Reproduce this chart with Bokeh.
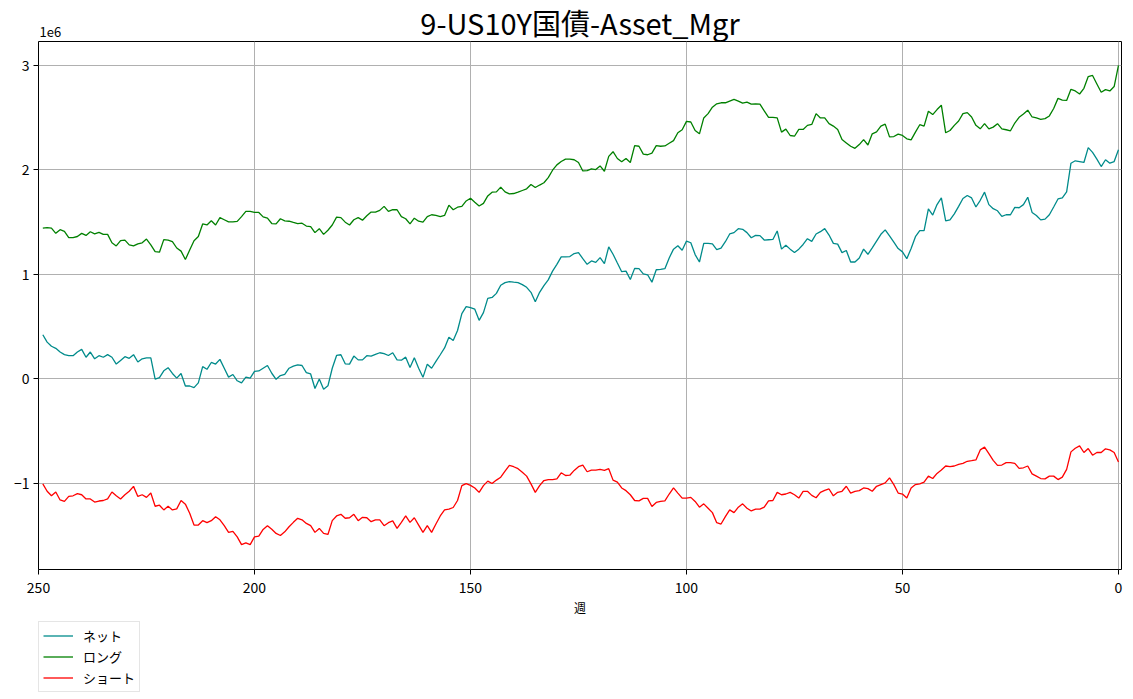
from bokeh.plotting import figure
from bokeh.layouts import column
from bokeh.models import (Range1d, FixedTicker, CustomJSTickFormatter, Legend,
                          LegendItem, Title, ColumnDataSource)
from bokeh.embed import file_html
from bokeh.resources import INLINE

FONT = "Noto Sans CJK JP"
SCALE = 1e6

title_text = "9-US10Y国債-Asset_Mgr"
x_label = "週"
legend_labels = ["ネット", "ロング", "ショート"]
colors = ["darkcyan", "green", "red"]
x_ticks = [250, 200, 150, 100, 50, 0]
y_ticks = [-1, 0, 1, 2, 3]

# weeks ago: 249 ... 0
weeks = list(range(249, -1, -1))

# values in millions (1e6)
long_m = [
    1.44, 1.445, 1.44, 1.39, 1.425, 1.41, 1.35, 1.35, 1.36, 1.39,
    1.37, 1.405, 1.385, 1.40, 1.38, 1.38, 1.30, 1.27, 1.32, 1.325,
    1.28, 1.27, 1.29, 1.30, 1.335, 1.28, 1.215, 1.21, 1.33, 1.325,
    1.31, 1.25, 1.22, 1.14, 1.23, 1.32, 1.36, 1.48, 1.47, 1.51,
    1.47, 1.54, 1.52, 1.50, 1.50, 1.505, 1.55, 1.60, 1.60, 1.59,
    1.59, 1.548, 1.535, 1.484, 1.48, 1.53, 1.51, 1.506, 1.494, 1.484,
    1.487, 1.46, 1.455, 1.397, 1.435, 1.38, 1.42, 1.47, 1.545, 1.54,
    1.497, 1.47, 1.52, 1.54, 1.516, 1.558, 1.594, 1.594, 1.61, 1.648,
    1.60, 1.616, 1.616, 1.55, 1.53, 1.48, 1.535, 1.506, 1.497, 1.55,
    1.568, 1.561, 1.55, 1.561, 1.66, 1.616, 1.64, 1.648, 1.70,
    1.726, 1.687, 1.652, 1.677, 1.748, 1.784, 1.787, 1.832, 1.787, 1.768,
    1.771, 1.784, 1.80, 1.816, 1.858, 1.829, 1.852, 1.874, 1.923, 1.994,
    2.045, 2.077, 2.10, 2.10, 2.094, 2.068, 1.987, 1.99, 2.006, 2.0,
    2.035, 1.984, 2.126, 2.171, 2.106, 2.074, 2.106, 2.068, 2.229, 2.223,
    2.148, 2.142, 2.158, 2.229, 2.223, 2.226, 2.252, 2.277, 2.352, 2.381,
    2.461, 2.455, 2.374, 2.342, 2.494, 2.535, 2.597, 2.629, 2.639, 2.639,
    2.655, 2.671, 2.655, 2.635, 2.645, 2.626, 2.629, 2.626, 2.561, 2.50,
    2.50, 2.494, 2.358, 2.387, 2.326, 2.319, 2.384, 2.384, 2.423, 2.432,
    2.535, 2.494, 2.494, 2.439, 2.416, 2.384, 2.287, 2.255, 2.223, 2.203,
    2.239, 2.287, 2.235, 2.342, 2.361, 2.416, 2.435, 2.313, 2.316, 2.339,
    2.326, 2.294, 2.284, 2.358, 2.429, 2.416, 2.558, 2.526, 2.574, 2.616,
    2.352, 2.374, 2.423, 2.465, 2.535, 2.545, 2.503, 2.423, 2.39, 2.439,
    2.39, 2.406, 2.439, 2.39, 2.381, 2.371, 2.445, 2.50, 2.532, 2.568,
    2.503, 2.494, 2.481, 2.487, 2.513, 2.584, 2.681, 2.665, 2.661, 2.768,
    2.752, 2.723, 2.777, 2.89, 2.90, 2.819, 2.739, 2.765, 2.752, 2.794,
    2.997,
]

net_m = [
    0.42, 0.35, 0.31, 0.29, 0.255, 0.23, 0.22, 0.22, 0.255, 0.28,
    0.205, 0.255, 0.19, 0.22, 0.205, 0.23, 0.205, 0.14, 0.175, 0.21,
    0.195, 0.23, 0.16, 0.19, 0.20, 0.20, -0.005, 0.01, 0.075, 0.105,
    0.05, 0.005, 0.05, -0.07, -0.07, -0.085, -0.04, 0.115, 0.09, 0.155,
    0.14, 0.185, 0.10, 0.015, 0.04, -0.02, -0.04, 0.015, 0.005, 0.07,
    0.074, 0.10, 0.126, 0.052, -0.006, 0.03, 0.042, 0.10, 0.12, 0.132,
    0.126, 0.058, 0.045, -0.094, -0.003, -0.10, -0.068, 0.10, 0.222, 0.229,
    0.142, 0.139, 0.216, 0.18, 0.18, 0.22, 0.216, 0.232, 0.248, 0.239,
    0.222, 0.248, 0.18, 0.177, 0.206, 0.106, 0.20, 0.10, 0.013, 0.139,
    0.10, 0.165, 0.229, 0.294, 0.397, 0.365, 0.461, 0.623, 0.69,
    0.68, 0.665, 0.558, 0.632, 0.768, 0.777, 0.816, 0.894, 0.919, 0.929,
    0.923, 0.919, 0.90, 0.874, 0.826, 0.735, 0.826, 0.89, 0.945, 1.029,
    1.094, 1.165, 1.165, 1.168, 1.197, 1.206, 1.148, 1.094, 1.126, 1.113,
    1.158, 1.10, 1.261, 1.19, 1.106, 1.023, 1.029, 0.948, 1.055, 1.052,
    1.003, 0.994, 0.923, 1.042, 1.045, 1.052, 1.155, 1.239, 1.271, 1.229,
    1.316, 1.30, 1.187, 1.116, 1.294, 1.294, 1.29, 1.235, 1.248, 1.31,
    1.384, 1.397, 1.435, 1.429, 1.397, 1.348, 1.371, 1.368, 1.326, 1.329,
    1.332, 1.413, 1.239, 1.277, 1.239, 1.206, 1.239, 1.284, 1.339, 1.313,
    1.384, 1.406, 1.435, 1.374, 1.294, 1.287, 1.206, 1.226, 1.116, 1.116,
    1.155, 1.239, 1.19, 1.252, 1.316, 1.381, 1.423, 1.365, 1.306, 1.245,
    1.213, 1.148, 1.245, 1.358, 1.416, 1.416, 1.623, 1.565, 1.665, 1.729,
    1.51, 1.519, 1.577, 1.648, 1.723, 1.752, 1.729, 1.642, 1.706, 1.784,
    1.665, 1.626, 1.606, 1.552, 1.568, 1.568, 1.639, 1.635, 1.665, 1.735,
    1.59, 1.561, 1.519, 1.526, 1.568, 1.642, 1.719, 1.729, 1.787, 2.061,
    2.084, 2.077, 2.068, 2.21, 2.165, 2.10, 2.029, 2.094, 2.061, 2.077,
    2.19,
]

short_m = [
    -1.006, -1.077, -1.12, -1.084, -1.16, -1.174, -1.126, -1.12, -1.10, -1.11,
    -1.15, -1.15, -1.18, -1.17, -1.165, -1.15, -1.084, -1.12, -1.15, -1.11,
    -1.077, -1.03, -1.126, -1.11, -1.135, -1.094, -1.22, -1.21, -1.255, -1.22,
    -1.255, -1.245, -1.165, -1.20, -1.287, -1.40, -1.40, -1.358, -1.377, -1.358,
    -1.32, -1.35, -1.406, -1.47, -1.46, -1.513, -1.587, -1.57, -1.587, -1.513,
    -1.506, -1.442, -1.406, -1.44, -1.48, -1.50, -1.465, -1.416, -1.374, -1.335,
    -1.35, -1.384, -1.406, -1.47, -1.432, -1.48, -1.49, -1.358, -1.313, -1.297,
    -1.335, -1.33, -1.297, -1.358, -1.326, -1.33, -1.368, -1.35, -1.35, -1.406,
    -1.377, -1.36, -1.432, -1.374, -1.313, -1.374, -1.33, -1.40, -1.47, -1.406,
    -1.47, -1.39, -1.313, -1.255, -1.248, -1.232, -1.165, -1.023, -1.003,
    -1.02, -1.045, -1.087, -1.023, -0.98, -1.003, -0.97, -0.942, -0.884, -0.829,
    -0.842, -0.861, -0.894, -0.932, -1.006, -1.087, -1.023, -0.974, -0.965, -0.965,
    -0.958, -0.90, -0.926, -0.923, -0.877, -0.842, -0.826, -0.89, -0.874, -0.874,
    -0.868, -0.877, -0.861, -0.97, -0.99, -1.045, -1.071, -1.11, -1.165, -1.168,
    -1.145, -1.145, -1.223, -1.184, -1.174, -1.168, -1.103, -1.045, -1.094, -1.142,
    -1.142, -1.135, -1.174, -1.229, -1.197, -1.239, -1.281, -1.377, -1.39, -1.319,
    -1.255, -1.281, -1.229, -1.197, -1.239, -1.265, -1.248, -1.248, -1.229, -1.168,
    -1.165, -1.087, -1.11, -1.103, -1.087, -1.11, -1.142, -1.077, -1.077, -1.116,
    -1.139, -1.087, -1.068, -1.055, -1.12, -1.087, -1.077, -1.029, -1.094, -1.077,
    -1.071, -1.045, -1.052, -1.077, -1.029, -1.013, -0.997, -0.948, -1.013, -1.094,
    -1.103, -1.142, -1.045, -1.013, -1.006, -0.99, -0.932, -0.955, -0.906, -0.874,
    -0.835, -0.842, -0.835, -0.819, -0.81, -0.79, -0.784, -0.777, -0.681, -0.655,
    -0.716, -0.781, -0.829, -0.826, -0.803, -0.803, -0.81, -0.858, -0.852, -0.835,
    -0.91, -0.932, -0.955, -0.958, -0.932, -0.932, -0.965, -0.942, -0.868, -0.70,
    -0.665, -0.642, -0.706, -0.668, -0.732, -0.706, -0.706, -0.671, -0.681, -0.706,
    -0.797,
]

source = ColumnDataSource(data=dict(
    week=weeks,
    net=[v * SCALE for v in net_m],
    long=[v * SCALE for v in long_m],
    short=[v * SCALE for v in short_m],
))

p = figure(frame_width=1083, frame_height=528, output_backend="svg",
           toolbar_location=None, title=None,
           x_range=Range1d(250, -0.7), y_range=Range1d(-1.825e6, 3.225e6),
           min_border_left=38, min_border_right=8, min_border_top=41,
           min_border_bottom=0, background_fill_color="white",
           border_fill_color="white")

# offset text "1e6" closest to the frame, then the main title above it
p.add_layout(Title(text="1e6", align="left", text_font=FONT,
                   text_font_size="13px", text_font_style="normal",
                   text_color="black", standoff=9, offset=1), "above")
p.add_layout(Title(text=title_text, align="center", text_font=FONT,
                   text_font_size="29px", text_font_style="normal",
                   text_color="black", standoff=-45), "above")

p.outline_line_color = "black"
p.outline_line_width = 1
p.outline_line_alpha = 1

r_net = p.line("week", "net", source=source, line_color=colors[0], line_width=1.3)
r_long = p.line("week", "long", source=source, line_color=colors[1], line_width=1.3)
r_short = p.line("week", "short", source=source, line_color=colors[2], line_width=1.3)

p.xaxis.ticker = FixedTicker(ticks=x_ticks)
p.yaxis.ticker = FixedTicker(ticks=[t * SCALE for t in y_ticks])
p.xgrid.ticker = FixedTicker(ticks=x_ticks)
p.ygrid.ticker = FixedTicker(ticks=[t * SCALE for t in y_ticks])
p.grid.grid_line_color = "#b0b0b0"
p.grid.grid_line_width = 1

p.yaxis.formatter = CustomJSTickFormatter(code="""
const v = Math.round(tick / 1e6);
return v < 0 ? '\u2212' + Math.abs(v) : String(v);
""")

for ax in (p.xaxis, p.yaxis):
    ax.axis_line_color = None
    ax.major_tick_line_color = "black"
    ax.major_tick_out = 5
    ax.major_tick_in = 0
    ax.minor_tick_out = 0
    ax.minor_tick_in = 0
    ax.major_label_text_font = FONT
    ax.major_label_text_font_size = "14px"
    ax.major_label_text_color = "black"
p.yaxis.major_label_standoff = 4
p.xaxis.major_label_standoff = 7

p.xaxis.axis_label = x_label
p.xaxis.axis_label_text_font = FONT
p.xaxis.axis_label_text_font_size = "12px"
p.xaxis.axis_label_text_font_style = "normal"
p.xaxis.axis_label_text_color = "black"
p.xaxis.axis_label_standoff = 3

# legend shown in a strip under the chart
leg = figure(width=300, height=80, output_backend="svg", toolbar_location=None,
             x_axis_type=None, y_axis_type=None, x_range=Range1d(0, 1),
             y_range=Range1d(0, 1), min_border=0, outline_line_color=None,
             background_fill_color="white", border_fill_color="white")
leg.grid.visible = False
leg_items = []
nan = float("nan")
for lab, col in zip(legend_labels, colors):
    rr = leg.line(x=[nan, nan], y=[nan, nan], line_color=col, line_width=1.3)
    leg_items.append(LegendItem(label=lab, renderers=[rr]))

legend = Legend(items=leg_items, location=(0, 6), orientation="vertical")
legend.label_text_font = FONT
legend.label_text_font_size = "13px"
legend.label_text_color = "black"
legend.glyph_width = 30
legend.glyph_height = 17
legend.label_height = 17
legend.spacing = 2
legend.padding = 4
legend.margin = 0
legend.label_standoff = 10
legend.border_line_color = "#cccccc"
legend.border_line_width = 1
legend.background_fill_color = "white"
legend.background_fill_alpha = 1
leg.add_layout(legend, "center")

layout = column(p, leg, spacing=0)

open("out.html", "w").write(file_html(layout, INLINE))
